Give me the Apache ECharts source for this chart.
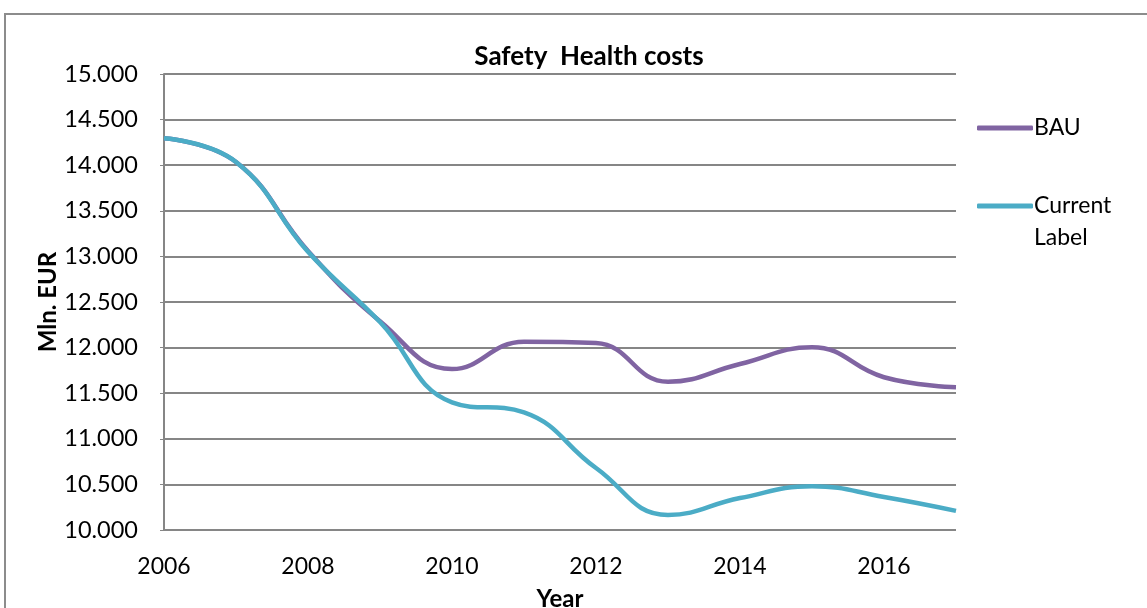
<!DOCTYPE html>
<html><head><meta charset="utf-8">
<script src="https://cdn.jsdelivr.net/npm/echarts@6/dist/echarts.min.js"></script>
<style>
html,body{margin:0;padding:0;background:#fff;}
#frame{position:absolute;left:4px;top:13px;width:1160px;height:620px;border:2px solid #8c8c8c;box-sizing:border-box;}
#chart{position:absolute;left:0;top:0;width:1147px;height:608px;}
</style></head>
<body><div id="frame"></div><div id="chart"></div>
<script>
const years = [2006,2007,2008,2009,2010,2011,2012,2013,2014,2015,2016,2017];
const bau = [14295,14035,13060,12290,11765,12065,12050,11625,11820,12005,11675,11565];
const current = [14295,14035,13050,12280,11400,11290,10680,10165,10350,10480,10362,10210];
const seriesNames = ['BAU','Current Label'];
const colors = ['#8064A2','#4BACC6'];
const font = 'Lato, "Open Sans", sans-serif';
function pairs(v){return years.map((y,i)=>[y,v[i]]);}
const chart = echarts.init(document.getElementById('chart'));
chart.setOption({
  animation:false,
  title:{text:'Safety  Health costs',left:584,textAlign:'center',top:39,textStyle:{fontFamily:font,fontSize:26,fontWeight:'bold',color:'#000'}},
  grid:{left:164,right:191,top:74,bottom:78,outerBoundsMode:'none',containLabel:false},
  legend:{orient:'vertical',left:972,top:107,itemGap:14,itemWidth:56,itemHeight:5,icon:'roundRect',
    data:seriesNames,
    formatter:n=>n==='Current Label'?'{pad| }\n{t|Current}\n{t|Label}':'{t|'+n+'}',
    textStyle:{fontFamily:font,fontSize:23,color:'#000',padding:[0,0,0,-4],
      rich:{pad:{height:32,lineHeight:32,fontSize:23},t:{fontFamily:font,fontSize:23,color:'#000',lineHeight:32,height:32}}}},
  xAxis:{type:'value',min:2006,max:2017,interval:2,
    name:'Year',nameLocation:'middle',nameGap:57,
    nameTextStyle:{fontFamily:font,fontSize:24,fontWeight:'bold',color:'#000'},
    axisLine:{show:false},axisTick:{show:false},splitLine:{show:false},
    axisLabel:{showMaxLabel:false,margin:25,fontFamily:font,fontSize:23,color:'#000',formatter:v=>String(v)}},
  yAxis:{type:'value',min:10000,max:15000,interval:500,
    name:'Mln. EUR',nameLocation:'middle',nameGap:104,nameMoveOverlap:false,
    nameTextStyle:{fontFamily:font,fontSize:24,fontWeight:'bold',color:'#000'},
    axisLine:{show:true,lineStyle:{color:'#868686',width:2}},
    axisTick:{show:true,length:4,lineStyle:{color:'#868686',width:1}},
    splitLine:{lineStyle:{color:'#868686',width:2}},
    axisLabel:{margin:26,fontFamily:font,fontSize:23.5,color:'#000',
      formatter:v=>(v/1000).toFixed(3)}},
  series:[
    {name:seriesNames[0],type:'line',smooth:0.45,symbol:'none',data:pairs(bau),lineStyle:{width:4.5,color:colors[0]},itemStyle:{color:colors[0]}},
    {name:seriesNames[1],type:'line',smooth:0.45,symbol:'none',data:pairs(current),lineStyle:{width:4.5,color:colors[1]},itemStyle:{color:colors[1]}}
  ]
});
</script></body></html>
